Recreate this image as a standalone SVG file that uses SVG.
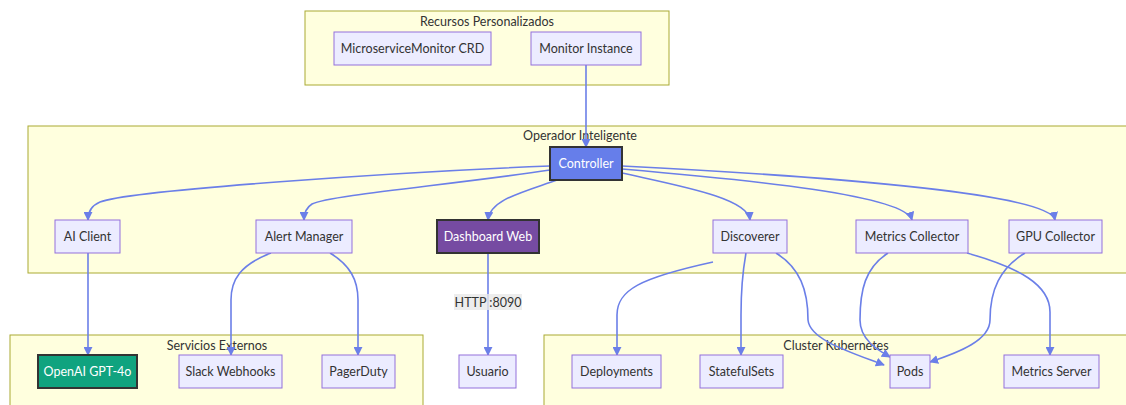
<svg xmlns="http://www.w3.org/2000/svg" width="1126" height="405" viewBox="0 0 1126 405">
<style>
.cluster{fill:#ffffde;stroke:#aaaa33;stroke-width:1}
.ctitle{font-family:"Trebuchet MS",Lato,"Open Sans",sans-serif;font-size:12.5px;fill:#333;text-anchor:middle}
.node rect{fill:#ececff;stroke:#9370db;stroke-width:1}
.node text{font-family:"Trebuchet MS",Lato,"Open Sans",sans-serif;font-size:12.5px;fill:#333;text-anchor:middle;dominant-baseline:central}
.node.dark rect{stroke:#333;stroke-width:2}
.node.dark text{fill:#fff}
.edge{fill:none;stroke:#6b7fe8;stroke-width:1.6;marker-end:url(#arr)}
.elabel{font-family:"Trebuchet MS",Lato,"Open Sans",sans-serif;font-size:12.5px;fill:#333;text-anchor:middle;dominant-baseline:central}
</style>
<defs>
<marker id="arr" viewBox="0 0 10 10" refX="9" refY="5" markerWidth="9" markerHeight="9" markerUnits="userSpaceOnUse" orient="auto">
<path d="M0,0 L10,5 L0,10 z" fill="#6b7fe8"/>
</marker>
</defs>
<rect width="1126" height="405" fill="#fff"/>
<g id="clusters">
<rect class="cluster" x="305" y="11" width="364" height="74"/>
<text class="ctitle" x="487" y="26">Recursos Personalizados</text>
<rect class="cluster" x="28" y="126" width="1110" height="147"/>
<text class="ctitle" x="580" y="140">Operador Inteligente</text>
<rect class="cluster" x="10" y="335" width="413" height="80"/>
<text class="ctitle" x="217" y="350">Servicios Externos</text>
<rect class="cluster" x="544" y="335" width="600" height="80"/>
<text class="ctitle" x="836" y="350">Cluster Kubernetes</text>
</g>
<g id="connectors">
<path class="edge" d="M586,65 L586,147"/>
<path class="edge" d="M550,166 C 400,172 130,190 100,202 Q 88,207 88,220"/>
<path class="edge" d="M550,170 C 450,185 330,195 312,204 Q 304,209 304,220"/>
<path class="edge" d="M557,180 C 520,193 490,200 488,220"/>
<path class="edge" d="M622,173 C 680,186 748,198 750,220"/>
<path class="edge" d="M622,169 C 750,180 905,195 912,220"/>
<path class="edge" d="M622,166 C 800,175 1050,192 1055,220"/>
<path class="edge" d="M88,253 L88,355"/>
<path class="edge" d="M271,253 C 240,265 231,280 231,300 L231,355"/>
<path class="edge" d="M330,253 C 350,265 358,280 358,300 L358,355"/>
<path class="edge" d="M488,253 L488,355"/>
<path class="edge" d="M713,262 C 640,278 617,290 617,315 L617,355"/>
<path class="edge" d="M746,253 C 742,275 741,290 741,315 L741,355"/>
<path class="edge" d="M776,253 C 800,268 808,290 808,320 C 810,340 850,352 884,365"/>
<path class="edge" d="M888,253 C 865,268 860,290 860,320 C 860,340 878,350 890,357"/>
<path class="edge" d="M967,253 C 1020,268 1050,285 1050,312 L1050,355"/>
<path class="edge" d="M1025,253 C 1000,268 990,290 990,320 C 990,340 960,352 930,362"/>
<rect x="454" y="294" width="68" height="16" fill="#e8e8e8" opacity="0.8"/>
<text class="elabel" x="488" y="302">HTTP :8090</text>
</g>
<g id="crd" class="node"><rect x="334" y="32" width="157" height="33"/><text x="412.5" y="48.5">MicroserviceMonitor CRD</text></g>
<g id="monitor" class="node"><rect x="531" y="32" width="110" height="33"/><text x="586" y="48.5">Monitor Instance</text></g>
<g id="controller" class="node dark"><rect x="550" y="147" width="72" height="33" style="fill:#667eea"/><text x="586" y="163.5">Controller</text></g>
<g id="aiclient" class="node"><rect x="55" y="220" width="65" height="33"/><text x="87.5" y="236.5">AI Client</text></g>
<g id="alertmanager" class="node"><rect x="256" y="220" width="96" height="33"/><text x="304" y="236.5">Alert Manager</text></g>
<g id="dashboard" class="node dark"><rect x="437" y="220" width="102" height="33" style="fill:#764ba2"/><text x="488" y="236.5">Dashboard Web</text></g>
<g id="discoverer" class="node"><rect x="713" y="220" width="74" height="33"/><text x="750" y="236.5">Discoverer</text></g>
<g id="metricscollector" class="node"><rect x="856" y="220" width="112" height="33"/><text x="912" y="236.5">Metrics Collector</text></g>
<g id="gpucollector" class="node"><rect x="1009" y="220" width="93" height="33"/><text x="1055.5" y="236.5">GPU Collector</text></g>
<g id="openai" class="node dark"><rect x="38" y="355" width="99" height="33" style="fill:#10a37f"/><text x="87.5" y="371.5">OpenAI GPT-4o</text></g>
<g id="slack" class="node"><rect x="179" y="355" width="103" height="33"/><text x="230.5" y="371.5">Slack Webhooks</text></g>
<g id="pagerduty" class="node"><rect x="322" y="355" width="73" height="33"/><text x="358.5" y="371.5">PagerDuty</text></g>
<g id="usuario" class="node"><rect x="459" y="355" width="57" height="33"/><text x="487.5" y="371.5">Usuario</text></g>
<g id="deployments" class="node"><rect x="572" y="355" width="89" height="33"/><text x="616.5" y="371.5">Deployments</text></g>
<g id="statefulsets" class="node"><rect x="700" y="355" width="83" height="33"/><text x="741.5" y="371.5">StatefulSets</text></g>
<g id="pods" class="node"><rect x="890" y="355" width="40" height="33"/><text x="910" y="371.5">Pods</text></g>
<g id="metricsserver" class="node"><rect x="1004" y="355" width="95" height="33"/><text x="1051.5" y="371.5">Metrics Server</text></g>
</svg>
